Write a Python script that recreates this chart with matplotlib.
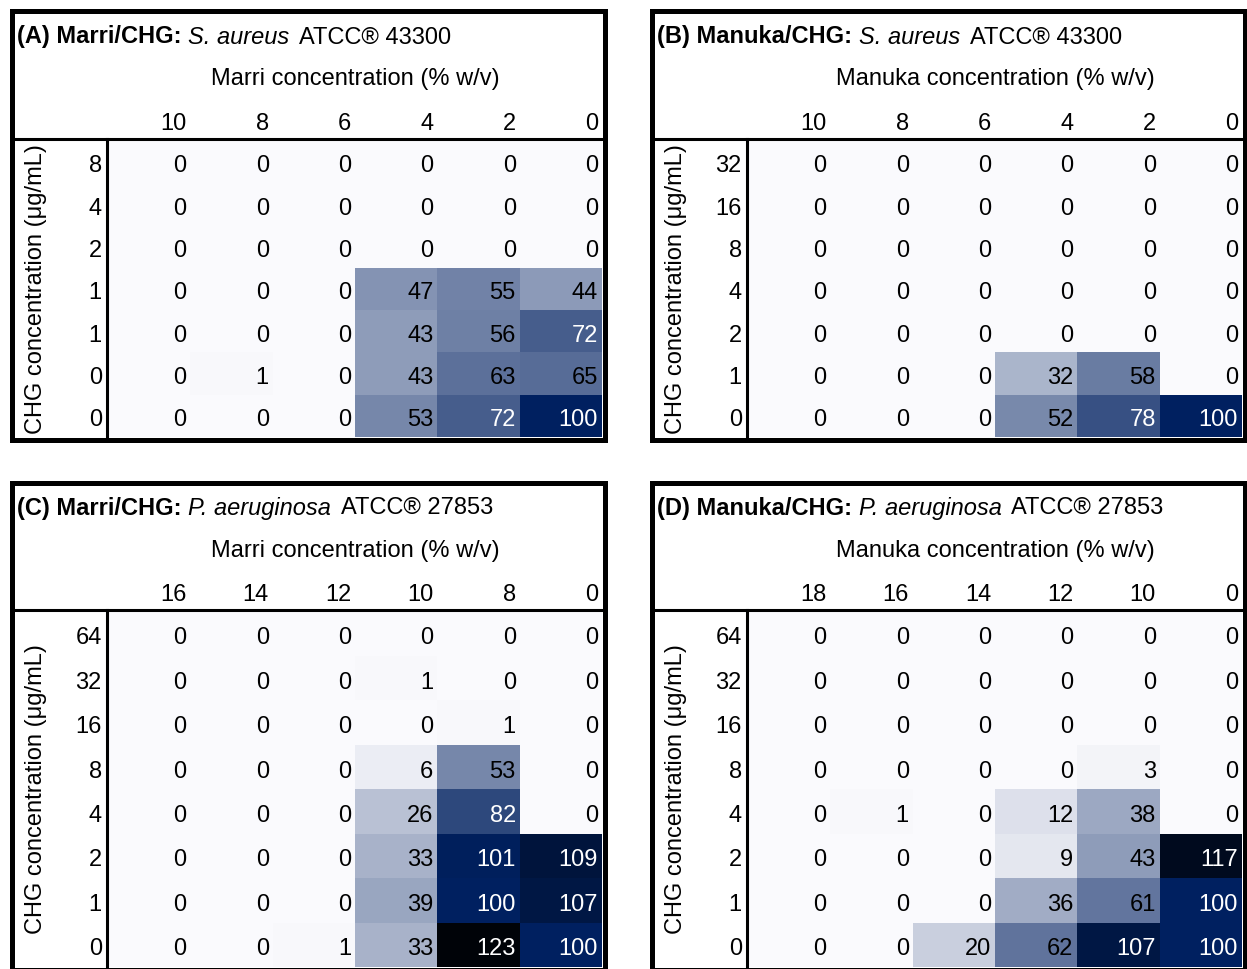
import numpy as np
import matplotlib
matplotlib.use("Agg")
import matplotlib.pyplot as plt
from matplotlib.colors import LinearSegmentedColormap, Normalize
from matplotlib.lines import Line2D
from matplotlib.patches import Rectangle
from matplotlib.text import Annotation
from matplotlib.transforms import ScaledTranslation

plt.rcParams['font.family'] = ['Liberation Sans', 'DejaVu Sans']

W, H = 1247, 969
FS = 17

# ---- data: % growth relative to untreated control ----
a_cols = ["10", "8", "6", "4", "2", "0"]
a_rows = ["8", "4", "2", "1", "1", "0", "0"]
a_vals = [[0, 0, 0, 0, 0, 0],
          [0, 0, 0, 0, 0, 0],
          [0, 0, 0, 0, 0, 0],
          [0, 0, 0, 47, 55, 44],
          [0, 0, 0, 43, 56, 72],
          [0, 1, 0, 43, 63, 65],
          [0, 0, 0, 53, 72, 100]]

b_cols = ["10", "8", "6", "4", "2", "0"]
b_rows = ["32", "16", "8", "4", "2", "1", "0"]
b_vals = [[0, 0, 0, 0, 0, 0],
          [0, 0, 0, 0, 0, 0],
          [0, 0, 0, 0, 0, 0],
          [0, 0, 0, 0, 0, 0],
          [0, 0, 0, 0, 0, 0],
          [0, 0, 0, 32, 58, 0],
          [0, 0, 0, 52, 78, 100]]

c_cols = ["16", "14", "12", "10", "8", "0"]
c_rows = ["64", "32", "16", "8", "4", "2", "1", "0"]
c_vals = [[0, 0, 0, 0, 0, 0],
          [0, 0, 0, 1, 0, 0],
          [0, 0, 0, 0, 1, 0],
          [0, 0, 0, 6, 53, 0],
          [0, 0, 0, 26, 82, 0],
          [0, 0, 0, 33, 101, 109],
          [0, 0, 0, 39, 100, 107],
          [0, 0, 1, 33, 123, 100]]

d_cols = ["18", "16", "14", "12", "10", "0"]
d_rows = ["64", "32", "16", "8", "4", "2", "1", "0"]
d_vals = [[0, 0, 0, 0, 0, 0],
          [0, 0, 0, 0, 0, 0],
          [0, 0, 0, 0, 0, 0],
          [0, 0, 0, 0, 3, 0],
          [0, 1, 0, 12, 38, 0],
          [0, 0, 0, 9, 43, 117],
          [0, 0, 0, 36, 61, 100],
          [0, 0, 20, 62, 107, 100]]

panels = [
    dict(tag="(A)", agent="Marri", bug="S. aureus", strain="ATCC\u00ae 43300",
         cols=a_cols, rows=a_rows, vals=a_vals, dx=0, top=11.5, bottom=439.5),
    dict(tag="(B)", agent="Manuka", bug="S. aureus", strain="ATCC\u00ae 43300",
         cols=b_cols, rows=b_rows, vals=b_vals, dx=640, top=11.5, bottom=439.5),
    dict(tag="(C)", agent="Marri", bug="P. aeruginosa", strain="ATCC\u00ae 27853",
         cols=c_cols, rows=c_rows, vals=c_vals, dx=0, top=482.5, bottom=969.5),
    dict(tag="(D)", agent="Manuka", bug="P. aeruginosa", strain="ATCC\u00ae 27853",
         cols=d_cols, rows=d_rows, vals=d_vals, dx=640, top=482.5, bottom=969.5),
]

cmap = LinearSegmentedColormap.from_list(
    "growth", [(0.0, "#fafafd"), (100 / 125, "#002060"), (1.0, "#000000")])
norm = Normalize(vmin=0, vmax=125)

fig = plt.figure(figsize=(W / 100, H / 100), dpi=100)
fig.patch.set_facecolor("white")


def fx(x):
    return x / W


def fy(y):
    return 1 - y / H


BORDER_LW = 3.6
INNER_LW = 2.2
TXT_DROP = ScaledTranslation(0, -7.6 / 72, fig.dpi_scale_trans)

for p in panels:
    dx, top, bottom = p["dx"], p["top"], p["bottom"]
    left, right = dx + 11.5, dx + 604.5
    hline_y = top + 127.5
    vline_x = dx + 106.5
    cx0, cx1 = dx + 108, dx + 602
    cy0, cy1 = hline_y + 1.5, bottom - 2.5

    vals = np.array(p["vals"], dtype=float)
    nr, nc = vals.shape

    ax = fig.add_axes([fx(cx0), fy(cy1), fx(cx1) - fx(cx0), fy(cy0) - fy(cy1)])
    ax.pcolormesh(np.arange(nc + 1), np.arange(nr + 1), vals, cmap=cmap, norm=norm)
    ax.set_xlim(0, nc)
    ax.set_ylim(nr, 0)
    for s in ax.spines.values():
        s.set_visible(False)

    # column labels (top, right aligned in each column)
    ax.xaxis.tick_top()
    ax.set_xticks(np.arange(nc) + 1 - 0.045)
    ax.set_xticklabels(p["cols"], fontsize=FS, ha="right")
    ax.tick_params(axis="x", length=0, pad=4)
    # row labels, baseline-aligned with the cell values
    ax.set_yticks(np.arange(nr) + 0.5)
    ax.set_yticklabels(p["rows"], fontsize=FS, va="baseline")
    ax.tick_params(axis="y", length=0, pad=4.5)
    for lab in ax.get_yticklabels():
        lab.set_transform(lab.get_transform() + TXT_DROP)

    ax.set_ylabel("CHG concentration (\u03bcg/mL)", fontsize=FS)
    ax.yaxis.label.set_va("center")
    ax.yaxis.set_label_coords((dx + 36 - cx0) / (cx1 - cx0), 0.5)
    ax.xaxis.set_label_position("top")
    ax.set_xlabel(f"{p['agent']} concentration (% w/v)", fontsize=FS)
    ax.xaxis.label.set_va("center")
    ax.xaxis.set_label_coords(0.5, 1 + (cy0 - (top + 68)) / (cy1 - cy0))

    # cell values
    for i in range(nr):
        for j in range(nc):
            v = vals[i, j]
            ax.annotate(f"{v:.0f}", xy=(j + 1, i + 0.5), xytext=(-2.8, -7.6),
                        textcoords="offset points", ha="right", va="baseline",
                        fontsize=FS, color="white" if v >= 70 else "black")

    # frame and separators
    fig.add_artist(Rectangle((fx(left), fy(bottom)), fx(right) - fx(left),
                             fy(top) - fy(bottom), fill=False, ec="black",
                             lw=BORDER_LW, joinstyle="miter", zorder=5))
    fig.add_artist(Line2D([fx(left), fx(right)], [fy(hline_y), fy(hline_y)],
                          color="black", lw=INNER_LW, zorder=5))
    fig.add_artist(Line2D([fx(vline_x), fx(vline_x)], [fy(hline_y), fy(bottom)],
                          color="black", lw=INNER_LW, zorder=5))

    # title: bold tag, italic organism, plain strain
    t1 = fig.text(fx(dx + 17), fy(top + 32), f"{p['tag']} {p['agent']}/CHG:",
                  fontsize=FS, fontweight="bold", va="baseline")
    t2 = Annotation(p["bug"], xy=(1, 0), xycoords=t1, xytext=(4.8, 0),
                    textcoords="offset points", fontsize=FS, fontstyle="italic",
                    va="bottom", ha="left")
    fig.add_artist(t2)
    t3 = Annotation(p["strain"], xy=(1, 0), xycoords=t2, xytext=(7, 0),
                    textcoords="offset points", fontsize=FS, va="bottom", ha="left")
    fig.add_artist(t3)

fig.savefig("out.png", dpi=100, facecolor="white")
